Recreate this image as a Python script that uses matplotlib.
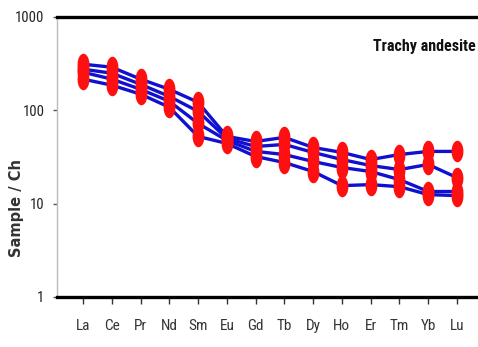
import matplotlib
matplotlib.use("Agg")
import matplotlib.pyplot as plt
import numpy as np
from matplotlib.path import Path
from matplotlib import font_manager

elements = ["La", "Ce", "Pr", "Nd", "Sm", "Eu", "Gd", "Tb", "Dy", "Ho", "Er", "Tm", "Yb", "Lu"]

sample_1 = [312, 290, 216, 168, 122, 52.5, 46.4, 51.3, 40.0, 35.4, 29.7, 33.6, 36.3, 36.3]
sample_2 = [276, 250, 190, 141, 97.5, 50.0, 41.0, 43.1, 35.4, 29.7, 25.6, 23.2, 26.3, 19.0]
sample_3 = [256, 216, 168, 125, 72.5, 47.6, 36.3, 33.6, 28.3, 24.4, 22.1, 18.1, 13.5, 13.5]
sample_4 = [216, 186, 149, 108, 52.5, 44.2, 32.0, 27.6, 22.1, 15.6, 16.0, 15.2, 12.5, 12.2]

y_ticks = [1, 10, 100, 1000]
y_tick_labels = ["1", "10", "100", "1000"]

# pick a condensed face if one is available
names = {f.name for f in font_manager.fontManager.ttflist}
narrow = "DejaVu Sans"
for cand in ("Liberation Sans Narrow", "DejaVu Sans Condensed", "Roboto Condensed"):
    if cand in names:
        narrow = cand
        break

# tall elliptical marker
t = np.linspace(0, 2 * np.pi, 60)
ellipse = Path(np.column_stack([0.55 * np.cos(t), np.sin(t)]), closed=True)

W, H = 478, 347
fig = plt.figure(figsize=(W / 100, H / 100), dpi=100)
ax = fig.add_axes([57 / W, 1 - 297 / H, (478 - 57) / W, (297 - 17) / H])

x = np.arange(len(elements))
for s in (sample_1, sample_2, sample_3, sample_4):
    ax.plot(x, s, color="#1010d0", lw=2.4, zorder=2)
for s in (sample_1, sample_2, sample_3, sample_4):
    ax.plot(x, s, ls="none", marker=ellipse, ms=15.5, color="#ff1010",
            markeredgewidth=0, zorder=3)

ax.set_yscale("log")
ax.set_ylim(1, 1000)
ax.set_xlim(-0.904, 13.73)
ax.set_yticks(y_ticks)
ax.set_yticklabels(y_tick_labels, family=narrow, stretch="condensed", fontsize=10.5, color="#222222")
ax.minorticks_off()
ax.set_xticks(x)
ax.set_xticklabels(elements, family=narrow, stretch="condensed", fontsize=11, color="#333333")

ax.tick_params(axis="y", direction="out", length=3, width=1, color="#555555", pad=6)
ax.tick_params(axis="x", direction="out", length=5, width=1, color="#333333", pad=11)

for side in ("top", "bottom"):
    ax.spines[side].set_linewidth(2.4)
    ax.spines[side].set_color("black")
ax.spines["right"].set_visible(False)
ax.spines["left"].set_color("#bbbbbb")
ax.spines["left"].set_linewidth(1)

ax.text(0.995, 0.895, "Trachy andesite", transform=ax.transAxes, ha="right", va="center",
        family=narrow, stretch="condensed", fontsize=11.5, fontweight="bold", color="#111111")

fig.text(17 / W, 1 - 208 / H, "Sample / Ch", rotation=90, ha="center", va="center",
         fontsize=10.5, fontweight="bold", color="#333333")

fig.savefig("out.png", dpi=100)
